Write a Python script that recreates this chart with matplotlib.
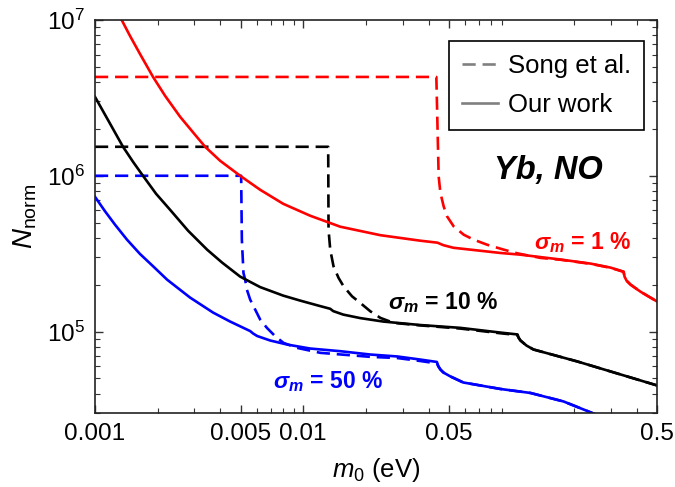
import matplotlib
matplotlib.use("Agg")
import matplotlib.pyplot as plt
from matplotlib.lines import Line2D
from matplotlib.ticker import FixedLocator, NullFormatter, FixedFormatter

plt.rcParams['font.family'] = ['Liberation Sans', 'DejaVu Sans']
plt.rcParams['mathtext.fontset'] = 'custom'
plt.rcParams['mathtext.rm'] = 'Liberation Sans'
plt.rcParams['mathtext.it'] = 'Liberation Sans:italic'
plt.rcParams['mathtext.bf'] = 'Liberation Sans:bold:italic'

# ---- data (m0 in eV, N_norm) ----
red_solid_x = [0.00132, 0.001473, 0.001645, 0.0019, 0.002171, 0.002564, 0.003027, 0.00338,
               0.003991, 0.00498, 0.006212, 0.008012, 0.0108, 0.01506, 0.02346, 0.0365,
               0.0441, 0.0471, 0.0526, 0.0885, 0.1105, 0.1721, 0.2399, 0.2992, 0.3455,
               0.3494, 0.3572, 0.3734, 0.4172, 0.5]
red_solid_y = [1.046e7, 7.90e6, 6.05e6, 4.31e6, 3.26e6, 2.39e6, 1.83e6, 1.535e6,
               1.248e6, 1.0e6, 8.13e5, 6.61e5, 5.54e5, 4.71e5, 4.155e5, 3.83e5,
               3.72e5, 3.585e5, 3.45e5, 3.195e5, 3.115e5, 2.90e5, 2.73e5, 2.573e5, 2.42e5,
               2.25e5, 2.12e5, 2.00e5, 1.80e5, 1.56e5]

red_dash_x = [0.001, 0.04358, 0.04471, 0.04557, 0.04726, 0.04907, 0.0528, 0.05899, 0.06587,
              0.07639, 0.09183, 0.1065, 0.1378, 0.1721, 0.2399, 0.2992, 0.3455, 0.3494,
              0.3572, 0.3734, 0.4172, 0.5]
red_dash_y = [4.31e6, 4.31e6, 9.90e5, 7.78e5, 6.357e5, 5.485e5, 4.73e5, 4.185e5, 3.888e5,
              3.61e5, 3.355e5, 3.18e5, 2.97e5, 2.89e5, 2.72e5, 2.565e5, 2.42e5, 2.25e5,
              2.12e5, 2.00e5, 1.80e5, 1.56e5]

black_solid_x = [0.001, 0.001168, 0.001363, 0.001523, 0.0017, 0.001964, 0.002294, 0.002799,
                 0.003455, 0.00408, 0.00498, 0.006212, 0.008012, 0.00967, 0.01181, 0.01348,
                 0.01393, 0.01556, 0.01879, 0.02425, 0.0365, 0.05683, 0.0885, 0.1069, 0.1081,
                 0.1105, 0.1181, 0.1276, 0.2077, 0.5]
black_solid_y = [3.21e6, 2.219e6, 1.535e6, 1.229e6, 1.0e6, 7.67e5, 6.05e5, 4.44e5,
                 3.355e5, 2.77e5, 2.252e5, 1.929e5, 1.701e5, 1.58e5, 1.468e5, 1.40e5,
                 1.353e5, 1.285e5, 1.22e5, 1.159e5, 1.101e5, 1.056e5, 9.85e4, 9.58e4, 9.15e4,
                 8.76e4, 8.13e4, 7.67e4, 6.42e4, 4.51e4]

black_dash_x = [0.001, 0.01318, 0.01323, 0.01348, 0.01398, 0.01478, 0.01562, 0.01715, 0.01879,
                0.0210, 0.02346, 0.02716, 0.0365, 0.05683, 0.0885, 0.1069, 0.1081, 0.1105,
                0.1181, 0.1276, 0.2077, 0.5]
black_dash_y = [1.535e6, 1.535e6, 4.507e5, 3.355e5, 2.622e5, 2.21e5, 1.952e5, 1.684e5, 1.527e5,
                1.349e5, 1.224e5, 1.137e5, 1.095e5, 1.045e5, 9.75e4, 9.50e4, 9.15e4, 8.76e4,
                8.13e4, 7.67e4, 6.42e4, 4.51e4]

blue_solid_x = [0.001, 0.001117, 0.001248, 0.001425, 0.001645, 0.0019, 0.002219, 0.002862,
                0.003693, 0.004458, 0.005562, 0.005749, 0.00601, 0.006942, 0.00838, 0.0108,
                0.01506, 0.0210, 0.0283, 0.0365, 0.04383, 0.0446, 0.04557, 0.0471, 0.0509,
                0.0587, 0.0885, 0.1233, 0.178, 0.2399, 0.2678]
blue_solid_y = [7.33e5, 5.92e5, 4.853e5, 3.888e5, 3.148e5, 2.626e5, 2.154e5, 1.652e5,
                1.323e5, 1.159e5, 1.007e5, 9.71e4, 9.36e4, 8.76e4, 8.25e4, 7.78e4,
                7.48e4, 7.12e4, 6.92e4, 6.61e4, 6.38e4, 5.97e4, 5.71e4, 5.46e4, 5.15e4,
                4.71e4, 4.28e4, 4.035e4, 3.557e4, 3.03e4, 2.85e4]

blue_dash_x = [0.001, 0.005034, 0.005073, 0.005164, 0.005262, 0.005362, 0.005562, 0.005878,
               0.006212, 0.006692, 0.007336, 0.00804, 0.009326, 0.01208, 0.0210, 0.0283,
               0.0365, 0.04383, 0.0446, 0.04557, 0.0471, 0.0509, 0.0587, 0.0885, 0.1233,
               0.178, 0.2399, 0.2678]
blue_dash_y = [1.0e6, 1.0e6, 3.888e5, 2.378e5, 2.154e5, 1.859e5, 1.603e5, 1.384e5,
               1.194e5, 1.056e5, 9.33e4, 8.46e4, 7.86e4, 7.30e4, 6.88e4, 6.76e4,
               6.47e4, 6.24e4, 5.97e4, 5.71e4, 5.46e4, 5.15e4, 4.71e4, 4.28e4, 4.035e4,
               3.557e4, 3.03e4, 2.85e4]

x_major = [0.001, 0.005, 0.01, 0.05, 0.5]
x_major_labels = ['0.001', '0.005', '0.01', '0.05', '0.5']
x_minor = [0.002, 0.003, 0.004, 0.006, 0.007, 0.008, 0.009,
           0.02, 0.03, 0.04, 0.06, 0.07, 0.08, 0.09, 0.2, 0.3, 0.4]
y_major = [1e5, 1e6, 1e7]
y_major_labels = ['$10^5$', '$10^6$', '$10^7$']
y_minor = [k * 10**e for e in (4, 5, 6) for k in range(2, 10)]

fig = plt.figure(figsize=(6.75, 4.87), dpi=100)
ax = fig.add_axes([95/675, 1-413/487, (657-95)/675, (413-20)/487])

lw = 1.9
dash = (0, (5.0, 2.6))
ax.plot(red_dash_x, red_dash_y, color='#ff0000', lw=lw, linestyle=dash)
ax.plot(black_dash_x, black_dash_y, color='black', lw=lw, linestyle=dash)
ax.plot(blue_dash_x, blue_dash_y, color='#0000ff', lw=lw, linestyle=dash)
ax.plot(red_solid_x, red_solid_y, color='#ff0000', lw=lw)
ax.plot(black_solid_x, black_solid_y, color='black', lw=lw)
ax.plot(blue_solid_x, blue_solid_y, color='#0000ff', lw=lw)

ax.set_xscale('log')
ax.set_yscale('log')
ax.set_xlim(0.001, 0.5)
ax.set_ylim(3.0e4, 1e7)

ax.xaxis.set_major_locator(FixedLocator(x_major))
ax.xaxis.set_major_formatter(FixedFormatter(x_major_labels))
ax.xaxis.set_minor_locator(FixedLocator(x_minor))
ax.xaxis.set_minor_formatter(NullFormatter())
ax.yaxis.set_major_locator(FixedLocator(y_major))
ax.yaxis.set_major_formatter(FixedFormatter(y_major_labels))
ax.yaxis.set_minor_locator(FixedLocator(y_minor))
ax.yaxis.set_minor_formatter(NullFormatter())

ax.tick_params(which='both', direction='in', top=True, right=True, color='#333333')
ax.tick_params(which='major', length=6, width=1.0, labelsize=17.5, pad=7)
ax.tick_params(which='minor', length=3.5, width=0.8)
for s in ax.spines.values():
    s.set_linewidth(1.2)
    s.set_color('#222222')

ax.set_xlabel(r'$m_0$ (eV)', fontsize=18.5, labelpad=8)
ax.set_ylabel(r'$N_{\rm norm}$', fontsize=20, labelpad=6)

handles = [Line2D([], [], color='#808080', lw=lw, linestyle=dash, label='Song et al.'),
           Line2D([], [], color='#808080', lw=lw, label='Our work')]
leg = ax.legend(handles=handles, loc='upper right', bbox_to_anchor=(644/675, 1-41/487),
                bbox_transform=fig.transFigure, borderaxespad=0, fontsize=18.5, fancybox=False,
                framealpha=1, edgecolor='black', handlelength=1.4, handletextpad=0.4,
                borderpad=0.5, labelspacing=0.6)
leg.get_frame().set_linewidth(1.2)

ax.text(0.806, 0.618, 'Yb, NO', transform=ax.transAxes, fontsize=23.5, fontweight='bold',
        fontstyle='italic', ha='center', va='center')
ax.text(0.868, 0.433, r'$\mathbf{\sigma_m}$ = 1 %', transform=ax.transAxes, fontsize=16.5,
        fontweight='bold', color='#ff0000', ha='center', va='center')
ax.text(0.619, 0.280, r'$\mathbf{\sigma_m}$ = 10 %', transform=ax.transAxes, fontsize=16.5,
        fontweight='bold', color='black', ha='center', va='center')
ax.text(0.415, 0.081, r'$\mathbf{\sigma_m}$ = 50 %', transform=ax.transAxes, fontsize=16.5,
        fontweight='bold', color='#0000ff', ha='center', va='center')

fig.savefig('out.png', dpi=100)
